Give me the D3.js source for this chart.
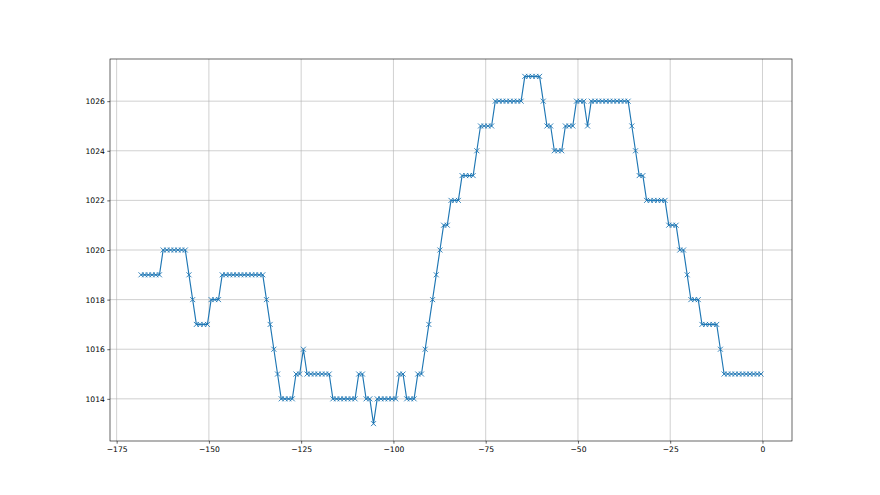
<!DOCTYPE html>
<html>
<head>
<meta charset="utf-8">
<script src="https://cdn.jsdelivr.net/npm/d3@7"></script>
<style>
  html, body { margin: 0; padding: 0; background: #fff; }
  svg { display: block; }
  text { font-family: "DejaVu Sans", sans-serif; }
</style>
</head>
<body>
<svg id="chart" width="880" height="495"></svg>
<script>
// Hours relative to now (readings taken about 24 min past each hour)
const hours = [
  -168.4,-167.4,-166.4,-165.4,-164.4,-163.4,-162.4,-161.4,-160.4,-159.4,
  -158.4,-157.4,-156.4,-155.4,-154.4,-153.4,-152.4,-151.4,-150.4,-149.4,
  -148.4,-147.4,-146.4,-145.4,-144.4,-143.4,-142.4,-141.4,-140.4,-139.4,
  -138.4,-137.4,-136.4,-135.4,-134.4,-133.4,-132.4,-131.4,-130.4,-129.4,
  -128.4,-127.4,-126.4,-125.4,-124.4,-123.4,-122.4,-121.4,-120.4,-119.4,
  -118.4,-117.4,-116.4,-115.4,-114.4,-113.4,-112.4,-111.4,-110.4,-109.4,
  -108.4,-107.4,-106.4,-105.4,-104.4,-103.4,-102.4,-101.4,-100.4,-99.4,
  -98.4,-97.4,-96.4,-95.4,-94.4,-93.4,-92.4,-91.4,-90.4,-89.4,
  -88.4,-87.4,-86.4,-85.4,-84.4,-83.4,-82.4,-81.4,-80.4,-79.4,
  -78.4,-77.4,-76.4,-75.4,-74.4,-73.4,-72.4,-71.4,-70.4,-69.4,
  -68.4,-67.4,-66.4,-65.4,-64.4,-63.4,-62.4,-61.4,-60.4,-59.4,
  -58.4,-57.4,-56.4,-55.4,-54.4,-53.4,-52.4,-51.4,-50.4,-49.4,
  -48.4,-47.4,-46.4,-45.4,-44.4,-43.4,-42.4,-41.4,-40.4,-39.4,
  -38.4,-37.4,-36.4,-35.4,-34.4,-33.4,-32.4,-31.4,-30.4,-29.4,
  -28.4,-27.4,-26.4,-25.4,-24.4,-23.4,-22.4,-21.4,-20.4,-19.4,
  -18.4,-17.4,-16.4,-15.4,-14.4,-13.4,-12.4,-11.4,-10.4,-9.4,
  -8.4,-7.4,-6.4,-5.4,-4.4,-3.4,-2.4,-1.4,-0.4
];
// Pressure readings (hPa)
const pressure = [
  1019,1019,1019,1019,1019,1019,1020,1020,1020,1020,
  1020,1020,1020,1019,1018,1017,1017,1017,1017,1018,
  1018,1018,1019,1019,1019,1019,1019,1019,1019,1019,
  1019,1019,1019,1019,1018,1017,1016,1015,1014,1014,
  1014,1014,1015,1015,1016,1015,1015,1015,1015,1015,
  1015,1015,1014,1014,1014,1014,1014,1014,1014,1015,
  1015,1014,1014,1013,1014,1014,1014,1014,1014,1014,
  1015,1015,1014,1014,1014,1015,1015,1016,1017,1018,
  1019,1020,1021,1021,1022,1022,1022,1023,1023,1023,
  1023,1024,1025,1025,1025,1025,1026,1026,1026,1026,
  1026,1026,1026,1026,1027,1027,1027,1027,1027,1026,
  1025,1025,1024,1024,1024,1025,1025,1025,1026,1026,
  1026,1025,1026,1026,1026,1026,1026,1026,1026,1026,
  1026,1026,1026,1025,1024,1023,1023,1022,1022,1022,
  1022,1022,1022,1021,1021,1021,1020,1020,1019,1018,
  1018,1018,1017,1017,1017,1017,1017,1016,1015,1015,
  1015,1015,1015,1015,1015,1015,1015,1015,1015
];
const xTicks = [-175, -150, -125, -100, -75, -50, -25, 0];
const yTicks = [1014, 1016, 1018, 1020, 1022, 1024, 1026];

const data = hours.map((h, i) => ({ x: h, y: pressure[i] }));

const svg = d3.select("#chart");
const L = 110, R = 792, T = 59, B = 441;

const xMin = d3.min(hours), xMax = d3.max(hours);
const yMin = d3.min(pressure), yMax = d3.max(pressure);
const xPad = (xMax - xMin) * 0.05, yPad = (yMax - yMin) * 0.05;

const x = d3.scaleLinear().domain([xMin - xPad, xMax + xPad]).range([L, R]);
const y = d3.scaleLinear().domain([yMin - yPad, yMax + yPad]).range([B, T]);

const fmt = d => d < 0 ? "\u2212" + Math.abs(d) : String(d);

// grid
const grid = svg.append("g");
grid.selectAll("line.vx").data(xTicks).enter().append("line")
  .attr("x1", d => x(d)).attr("x2", d => x(d)).attr("y1", T).attr("y2", B)
  .attr("stroke", "#b0b0b0").attr("stroke-width", 0.6);
grid.selectAll("line.hy").data(yTicks).enter().append("line")
  .attr("x1", L).attr("x2", R).attr("y1", d => y(d)).attr("y2", d => y(d))
  .attr("stroke", "#b0b0b0").attr("stroke-width", 0.6);

// axes
const xAxis = d3.axisBottom(x).tickValues(xTicks).tickFormat(fmt).tickSize(2.7).tickPadding(2.5);
const yAxis = d3.axisLeft(y).tickValues(yTicks).tickFormat(d3.format("d")).tickSize(2.7).tickPadding(2.5);

const gx = svg.append("g").attr("transform", `translate(0,${B})`).call(xAxis);
const gy = svg.append("g").attr("transform", `translate(${L},0)`).call(yAxis);
[gx, gy].forEach(g => {
  g.select(".domain").remove();
  g.selectAll(".tick line").attr("stroke", "#000").attr("stroke-width", 0.6);
  g.selectAll(".tick text").attr("fill", "#000").style("font-size", "7.6px")
    .style("font-family", "'DejaVu Sans', sans-serif");
});

// line
const line = d3.line().x(d => x(d.x)).y(d => y(d.y));
svg.append("path").datum(data)
  .attr("fill", "none").attr("stroke", "#1f77b4").attr("stroke-width", 1.15)
  .attr("stroke-linejoin", "round").attr("d", line);

// markers
const m = 2.5;
svg.append("g").selectAll("path").data(data).enter().append("path")
  .attr("d", d => {
    const cx = x(d.x), cy = y(d.y);
    return `M${cx - m},${cy - m}L${cx + m},${cy + m}M${cx - m},${cy + m}L${cx + m},${cy - m}`;
  })
  .attr("stroke", "#1f77b4").attr("stroke-width", 0.9).attr("fill", "none");

// frame
svg.append("rect").attr("x", L).attr("y", T).attr("width", R - L).attr("height", B - T)
  .attr("fill", "none").attr("stroke", "#000").attr("stroke-width", 0.6);
</script>
</body>
</html>
